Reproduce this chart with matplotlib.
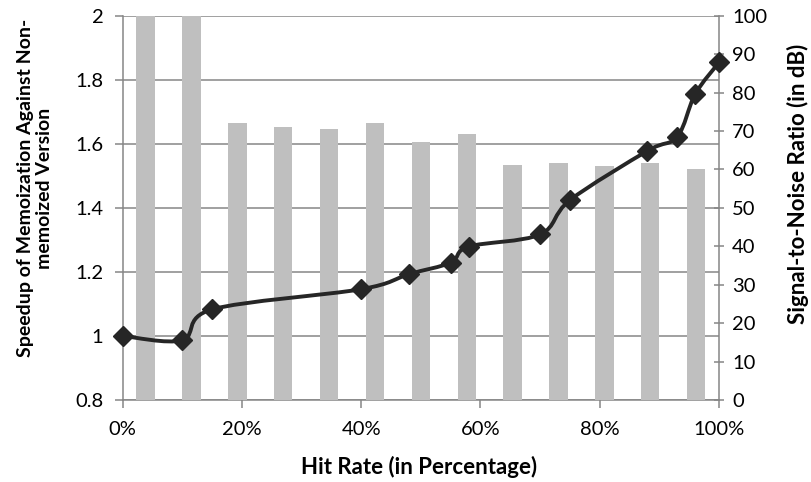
import numpy as np
import matplotlib
matplotlib.use("Agg")
import matplotlib.pyplot as plt
from matplotlib.path import Path
from matplotlib.patches import PathPatch

plt.rcParams['font.family'] = ['Lato', 'DejaVu Sans']

# speedup measured at each hit rate (left axis)
hit_rate = [0, 10, 15, 40, 48, 55, 58, 70, 75, 88, 93, 96, 100]
speedup = [1.0, 0.987, 1.083, 1.146, 1.193, 1.229, 1.279, 1.317, 1.424,
           1.578, 1.622, 1.755, 1.854]

# SNR for the same runs, in dB (right axis); infinite values capped at 100
snr_db = [100, 100, 72.0, 71.0, 70.6, 72.0, 67.1, 69.1, 61.2, 61.8, 61.0,
          61.8, 60.1]

speedup_ticks = [0.8, 1.0, 1.2, 1.4, 1.6, 1.8, 2.0]
speedup_labels = ['0.8', '1', '1.2', '1.4', '1.6', '1.8', '2']
hit_ticks = [0, 20, 40, 60, 80, 100]
snr_ticks = list(range(0, 101, 10))

axis_grey = '#868686'
bar_grey = '#bfbfbf'
line_dark = '#262626'

fig = plt.figure(figsize=(8.11, 4.82), dpi=100)
rect = [122.7 / 811, 1 - 400 / 482, (719 - 122.7) / 811, (400 - 15.7) / 482]

# bottom axes: speedup scale, grid and hit-rate ticks
ax = fig.add_axes(rect)
ax.set_xlim(0, 100)
ax.set_ylim(0.8, 2.0)
ax.set_yticks(speedup_ticks)
ax.set_yticklabels(speedup_labels)
ax.set_xticks(hit_ticks)
ax.set_xticklabels([f'{t}%' for t in hit_ticks])
ax.grid(axis='y', color=axis_grey, linewidth=1.1)
ax.set_axisbelow(True)
for side in ['top', 'right']:
    ax.spines[side].set_visible(False)
for side in ['left', 'bottom']:
    ax.spines[side].set_color(axis_grey)
    ax.spines[side].set_linewidth(1.1)
ax.tick_params(axis='both', colors=axis_grey, labelcolor='black',
               labelsize=14.5, length=6, width=1.1)
ax.tick_params(axis='x', pad=9)
ax.tick_params(axis='y', pad=8)

# top axes: SNR bars on a category axis, plus the speedup curve
ax_bar = fig.add_axes(rect, label='snr')
ax_bar.patch.set_visible(False)
cats = np.arange(len(snr_db))
ax_bar.bar(cats, snr_db, width=0.4, color=bar_grey, zorder=2)

# smoothed speedup curve (Catmull-Rom through the points)
pts = np.column_stack([hit_rate, speedup])
n = len(pts)
verts = [pts[0]]
codes = [Path.MOVETO]
for i in range(n - 1):
    p0 = pts[i - 1] if i > 0 else pts[i]
    p1, p2 = pts[i], pts[i + 1]
    p3 = pts[i + 2] if i + 2 < n else pts[i + 1]
    verts += [p1 + (p2 - p0) / 6, p2 - (p3 - p1) / 6, p2]
    codes += [Path.CURVE4] * 3
curve = PathPatch(Path(verts, codes), facecolor='none', edgecolor=line_dark,
                  linewidth=2.8, transform=ax.transData, zorder=3,
                  clip_on=False, capstyle='round', joinstyle='round')
ax_bar.add_patch(curve)
ax_bar.plot(hit_rate, speedup, linestyle='none', marker='D', markersize=10,
            color=line_dark, transform=ax.transData, zorder=4, clip_on=False)

ax_bar.set_xlim(-0.5, len(snr_db) - 0.5)
ax_bar.set_ylim(0, 100)
ax_bar.set_yticks(snr_ticks)
ax_bar.xaxis.set_visible(False)
ax_bar.yaxis.tick_right()
for side in ['top', 'left', 'bottom']:
    ax_bar.spines[side].set_visible(False)
ax_bar.spines['right'].set_color(axis_grey)
ax_bar.spines['right'].set_linewidth(1.1)
ax_bar.tick_params(axis='y', colors=axis_grey, labelcolor='black',
                   labelsize=14.5, length=7, width=1.1, direction='inout',
                   pad=6)

fig.text(419 / 811, 1 - 467 / 482, 'Hit Rate (in Percentage)', ha='center',
         va='center', fontsize=16, fontweight='bold')
fig.text(35 / 811, 1 - 188 / 482,
         'Speedup of Memoization Against Non-\nmemoized Version',
         ha='center', va='center', rotation=90, fontsize=14,
         fontweight='bold', linespacing=1.15)
fig.text(798 / 811, 1 - 184 / 482, 'Signal-to-Noise Ratio (in dB)',
         ha='center', va='center', rotation=90, fontsize=16,
         fontweight='bold')

fig.savefig('out.png', dpi=100)
